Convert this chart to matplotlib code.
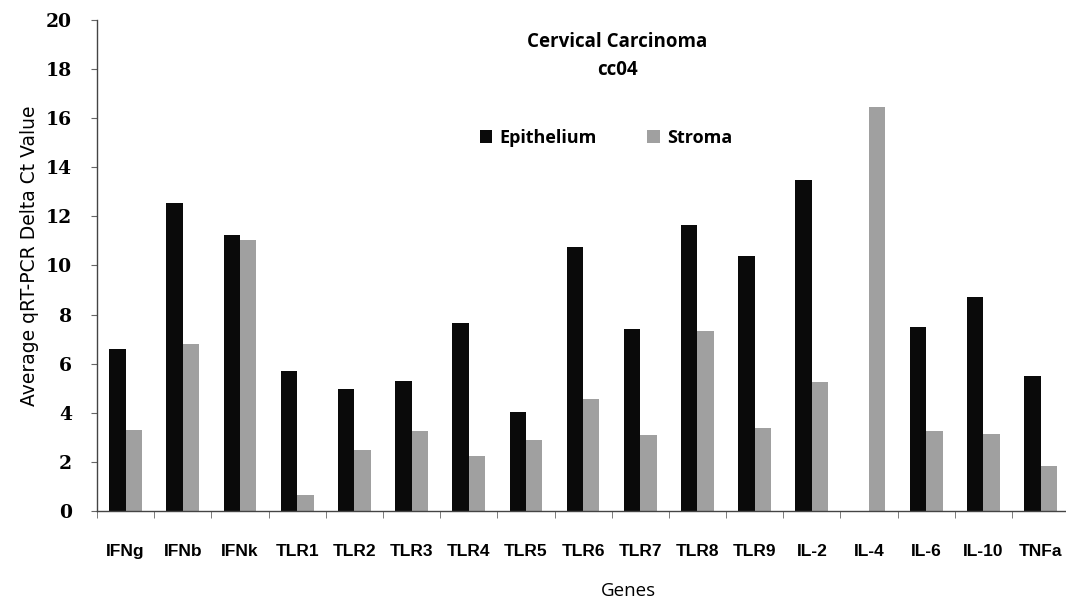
import numpy as np
import matplotlib.pyplot as plt
from matplotlib.ticker import FixedLocator

genes = ["IFNg", "IFNb", "IFNk", "TLR1", "TLR2", "TLR3", "TLR4", "TLR5", "TLR6",
         "TLR7", "TLR8", "TLR9", "IL-2", "IL-4", "IL-6", "IL-10", "TNFa"]
epithelium = [6.6, 12.55, 11.25, 5.7, 4.95, 5.3, 7.65, 4.05, 10.75,
              7.4, 11.65, 10.4, 13.5, 0.0, 7.5, 8.7, 5.5]
stroma = [3.3, 6.8, 11.05, 0.65, 2.5, 3.25, 2.25, 2.9, 4.55,
          3.1, 7.35, 3.4, 5.25, 16.45, 3.25, 3.15, 1.85]

fig = plt.figure(figsize=(10.66, 6.04), dpi=100)
ax = fig.add_axes([0.091, 0.154, 0.912, 0.813])

x = np.arange(len(genes))
w = 0.286
ax.bar(x - w / 2, epithelium, w, color="#0a0a0a", label="Epithelium")
ax.bar(x + w / 2, stroma, w, color="#a0a0a0", label="Stroma")

ax.set_xlim(-0.5, len(genes) - 0.5)
ax.set_ylim(0, 20)
ax.set_yticks(range(0, 21, 2))

ax.spines["top"].set_visible(False)
ax.spines["right"].set_visible(False)
for s in ["left", "bottom"]:
    ax.spines[s].set_color("#444444")
    ax.spines[s].set_linewidth(1.0)

# category labels centred, tick marks between categories
ax.set_xticks(x)
ax.set_xticklabels(genes, fontfamily="Liberation Sans", fontweight="bold", fontsize=12.5)
ax.xaxis.set_minor_locator(FixedLocator(np.arange(-0.5, len(genes), 1)))
ax.tick_params(axis="x", which="major", length=0, pad=24)
ax.tick_params(axis="x", which="minor", length=5, direction="out", color="#666666")
ax.tick_params(axis="y", length=4, direction="out", color="#666666", pad=14)
for t in ax.get_yticklabels():
    t.set_fontfamily("DejaVu Serif")
    t.set_fontweight("bold")
    t.set_fontsize(13.5)

ax.set_ylabel("Average qRT-PCR Delta Ct Value", fontfamily="DejaVu Sans", fontsize=13.5)
ax.yaxis.set_label_coords(-0.06, 0.52)
fig.text(628 / 1066, 1 - 591 / 604, "Genes", ha="center", va="center",
         fontfamily="Open Sans", fontsize=13.5)

fig.text(617 / 1066, 1 - 42 / 604, "Cervical Carcinoma", ha="center", va="center",
         fontfamily="Open Sans", fontweight="bold", fontsize=13.5)
fig.text(617 / 1066, 1 - 70 / 604, "cc04", ha="center", va="center",
         fontfamily="Open Sans", fontweight="bold", fontsize=13.5)

fig.legend(loc="center", bbox_to_anchor=(606 / 1066, 1 - 138 / 604), ncol=2,
           frameon=False, handlelength=0.7, handleheight=0.7, handletextpad=0.4,
           columnspacing=2.8, prop={"family": "Open Sans", "weight": "bold", "size": 13})

fig.savefig("out.png", dpi=100)
